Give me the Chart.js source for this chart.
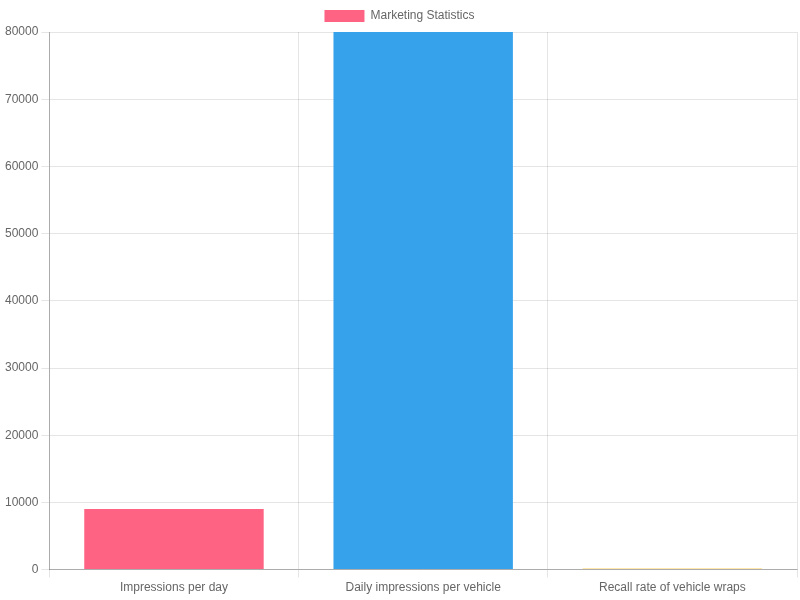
<!DOCTYPE html>
<html>
<head>
<meta charset="utf-8">
<script src="https://cdn.jsdelivr.net/npm/chart.js@4/dist/chart.umd.min.js"></script>
<style>
html,body{margin:0;padding:0;background:#fff;}
#wrap{width:800px;height:600px;}
</style>
</head>
<body>
<div id="wrap"><canvas id="c" width="800" height="600"></canvas></div>
<script>
const categories = ["Impressions per day", "Daily impressions per vehicle", "Recall rate of vehicle wraps"];
const seriesLabel = "Marketing Statistics";
const values = [9000, 80000, 150];
const barColors = ["#FF6384", "#36A2EB", "#FFCE56"];

Chart.defaults.font.family = "'Liberation Sans', Arial, Helvetica, sans-serif";
Chart.defaults.font.size = 12;
Chart.defaults.color = "#666";

new Chart(document.getElementById("c"), {
  type: "bar",
  data: {
    labels: categories,
    datasets: [{
      label: seriesLabel,
      data: values,
      backgroundColor: barColors,
      borderWidth: 0
    }]
  },
  options: {
    responsive: false,
    animation: false,
    layout: { padding: { left: 2, right: 3, bottom: 2 } },
    plugins: {
      legend: { display: true, position: "top" },
      tooltip: { enabled: false }
    },
    scales: {
      x: {
        grid: { color: "rgba(0,0,0,0.1)" },
        border: { color: "rgba(0,0,0,0.25)" }
      },
      y: {
        beginAtZero: true,
        max: 80000,
        ticks: { stepSize: 10000, callback: v => String(v) },
        grid: { color: "rgba(0,0,0,0.1)" },
        border: { color: "rgba(0,0,0,0.25)" }
      }
    }
  }
});
</script>
</body>
</html>
